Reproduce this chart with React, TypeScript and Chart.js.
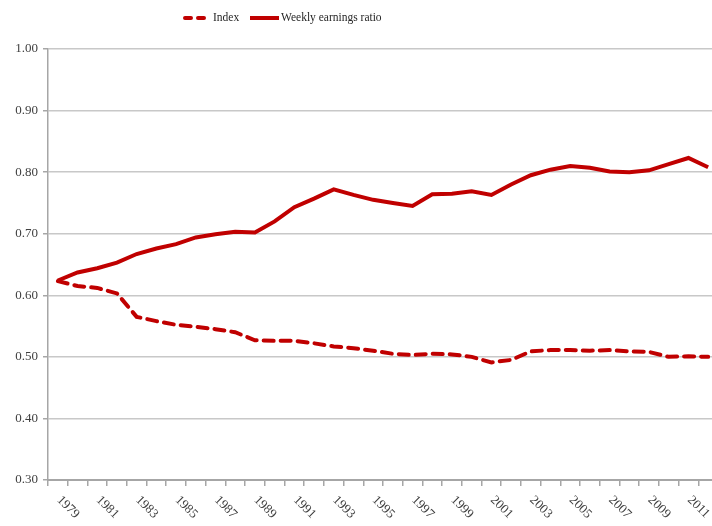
import { useEffect, useRef } from "react";
import { Chart, registerables } from "chart.js";

Chart.register(...registerables);

const years = [
  "1979", "1980", "1981", "1982", "1983", "1984", "1985", "1986", "1987", "1988",
  "1989", "1990", "1991", "1992", "1993", "1994", "1995", "1996", "1997", "1998",
  "1999", "2000", "2001", "2002", "2003", "2004", "2005", "2006", "2007", "2008",
  "2009", "2010", "2011", "2012",
];

const indexValues = [
  0.623, 0.615, 0.612, 0.603, 0.565, 0.558, 0.552, 0.549, 0.545, 0.54,
  0.527, 0.526, 0.526, 0.522, 0.517, 0.514, 0.51, 0.505, 0.503, 0.505,
  0.504, 0.5, 0.491, 0.495, 0.509, 0.511, 0.511, 0.51, 0.511, 0.509,
  0.508, 0.5, 0.501, 0.5,
];

const weeklyEarningsRatio = [
  0.624, 0.637, 0.644, 0.653, 0.667, 0.676, 0.683, 0.694, 0.699, 0.703,
  0.702, 0.72, 0.743, 0.757, 0.772, 0.763, 0.755, 0.75, 0.745, 0.764,
  0.765, 0.769, 0.763, 0.78, 0.795, 0.804, 0.81, 0.807, 0.801, 0.8,
  0.803, 0.813, 0.823, 0.808,
];

const seriesNames = ["Index", "Weekly earnings ratio"];

const RED = "#C00000";
const FONT = '"Liberation Serif", "Times New Roman", serif';
const TEXT = "#404040";

const xLabelPlugin = {
  id: "rotatedXLabels",
  afterDraw(chart: any) {
    const { ctx, chartArea } = chart;
    const x = chart.scales.x;
    ctx.save();
    ctx.font = `13px ${FONT}`;
    ctx.fillStyle = TEXT;
    ctx.textAlign = "left";
    ctx.textBaseline = "middle";
    years.forEach((lab, i) => {
      if (i % 2 !== 0) return;
      const px = x.getPixelForValue(i);
      ctx.save();
      ctx.translate(px + 1, chartArea.bottom + 18);
      ctx.rotate(Math.PI / 4);
      ctx.fillText(lab, 0, 0);
      ctx.restore();
    });
    ctx.restore();
  },
};

const legendPlugin = {
  id: "customLegend",
  afterDraw(chart: any) {
    const { ctx } = chart;
    const ds = chart.data.datasets;
    const y = 18;
    ctx.save();
    ctx.font = `11.5px ${FONT}`;
    ctx.fillStyle = "#262626";
    ctx.textBaseline = "middle";
    ctx.textAlign = "left";
    ctx.strokeStyle = ds[0].borderColor;
    ctx.lineWidth = 4;
    ctx.lineCap = "round";
    ctx.setLineDash([6, 7]);
    ctx.beginPath();
    ctx.moveTo(185, y);
    ctx.lineTo(209, y);
    ctx.stroke();
    ctx.fillText(ds[0].label, 213, y);
    ctx.setLineDash([]);
    ctx.lineCap = "butt";
    ctx.strokeStyle = ds[1].borderColor;
    ctx.beginPath();
    ctx.moveTo(250, y);
    ctx.lineTo(279, y);
    ctx.stroke();
    ctx.fillText(ds[1].label, 281, y);
    ctx.restore();
  },
};

export default function App() {
  const ref = useRef<HTMLCanvasElement | null>(null);

  useEffect(() => {
    if (!ref.current) return;
    const chart = new Chart(ref.current, {
      type: "line",
      data: {
        labels: years,
        datasets: [
          {
            label: seriesNames[0],
            data: indexValues,
            borderColor: RED,
            backgroundColor: RED,
            borderWidth: 4,
            borderDash: [10, 7],
            borderCapStyle: "round",
            pointRadius: 0,
            tension: 0,
            fill: false,
          },
          {
            label: seriesNames[1],
            data: weeklyEarningsRatio,
            borderColor: RED,
            backgroundColor: RED,
            borderWidth: 4,
            pointRadius: 0,
            tension: 0,
            fill: false,
          },
        ],
      },
      options: {
        responsive: false,
        animation: false,
        layout: { padding: { top: 49, right: 12, left: 0, bottom: 0 } },
        plugins: {
          legend: { display: false },
          tooltip: { enabled: false },
        },
        scales: {
          x: {
            type: "category",
            offset: true,
            grid: {
              offset: true,
              drawOnChartArea: false,
              drawTicks: true,
              tickLength: 6,
              color: "#a6a6a6",
              lineWidth: 1.5,
            },
            border: { display: true, color: "#a6a6a6", width: 2 },
            ticks: { display: false },
            afterFit(s: any) {
              s.height = 46;
            },
          },
          y: {
            min: 0.3,
            max: 1.0,
            ticks: {
              stepSize: 0.1,
              callback: (v: any) => Number(v).toFixed(2),
              font: { family: FONT, size: 13 },
              color: TEXT,
              padding: 5,
            },
            grid: {
              color: "#c8c8c8",
              lineWidth: 1.5,
              tickLength: 5,
              tickColor: "#a6a6a6",
              drawTicks: true,
            },
            border: { display: true, color: "#a6a6a6", width: 1.5 },
            afterFit(s: any) {
              s.width = 48;
            },
          },
        },
      },
      plugins: [xLabelPlugin, legendPlugin],
    });
    return () => chart.destroy();
  }, []);

  return (
    <div
      style={{
        position: "absolute",
        left: 0,
        top: 0,
        width: 712,
        height: 526,
        overflow: "hidden",
        background: "#fff",
      }}
    >
      <canvas ref={ref} width={730} height={526} style={{ display: "block" }} />
    </div>
  );
}
